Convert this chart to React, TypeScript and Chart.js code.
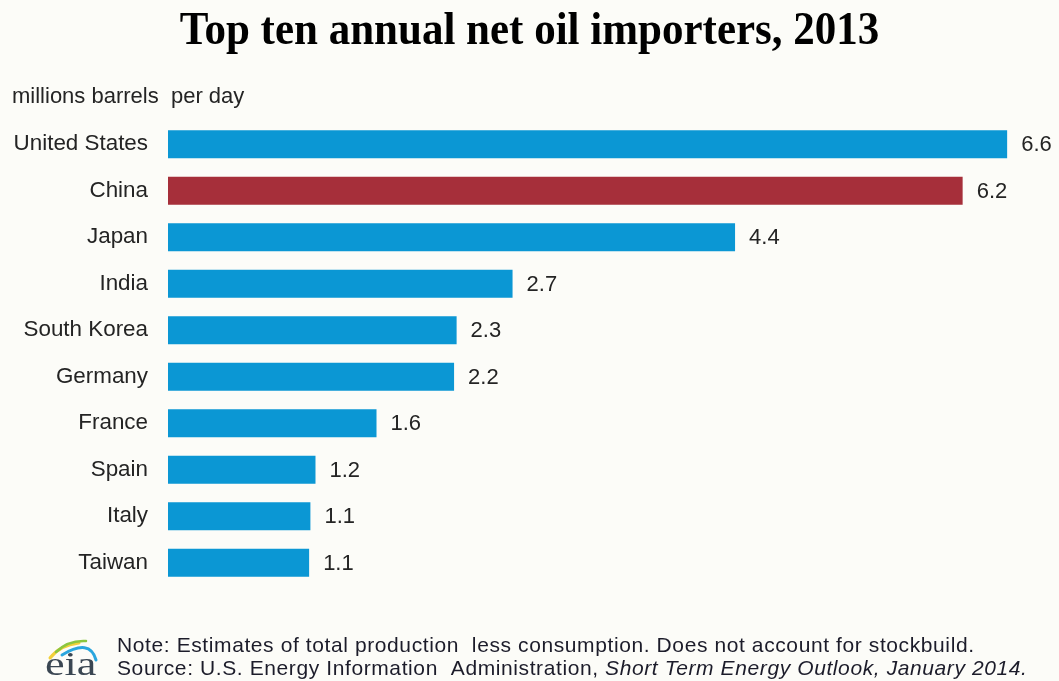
import { useEffect, useRef } from "react";
import { Chart, registerables } from "chart.js";

Chart.register(...registerables);

const TITLE = "Top ten annual net oil importers, 2013";
const UNIT_LABEL = "millions barrels  per day";
const countries = [
  "United States",
  "China",
  "Japan",
  "India",
  "South Korea",
  "Germany",
  "France",
  "Spain",
  "Italy",
  "Taiwan",
];
const netImports = [6.6, 6.25, 4.46, 2.71, 2.27, 2.25, 1.64, 1.16, 1.12, 1.11];
const valueLabels = ["6.6", "6.2", "4.4", "2.7", "2.3", "2.2", "1.6", "1.2", "1.1", "1.1"];
const highlighted = ["China"];
const NOTE = "Note: Estimates of total production  less consumption. Does not account for stockbuild.";
const SOURCE_PREFIX = "Source: U.S. Energy Information  Administration, ";
const SOURCE_ITALIC = "Short Term Energy Outlook, January 2014.";
const LOGO_TEXT = "eia";

const BLUE = "#0b97d4";
const RED = "#a62f3a";
const TEXT = "#242424";
const SANS = "'Liberation Sans', Arial, sans-serif";

const decorPlugin = {
  id: "decor",
  beforeDraw(chart: any) {
    const { ctx, width, height } = chart;
    ctx.save();
    ctx.fillStyle = "#fcfcf8";
    ctx.fillRect(0, 0, width, height);
    ctx.restore();
  },
  afterDraw(chart: any) {
    const ctx = chart.ctx;
    ctx.save();
    // value labels
    ctx.font = `22px ${SANS}`;
    ctx.fillStyle = TEXT;
    ctx.textAlign = "left";
    ctx.textBaseline = "middle";
    const meta = chart.getDatasetMeta(0);
    meta.data.forEach((bar: any, i: number) => {
      ctx.fillText(valueLabels[i], bar.x + 14, bar.y + 1);
    });

    // title
    ctx.save();
    ctx.translate(chart.width / 2, 44);
    ctx.scale(1, 1.1);
    ctx.font = "bold 43px 'Liberation Serif', 'Times New Roman', serif";
    ctx.fillStyle = "#000";
    ctx.textAlign = "center";
    ctx.textBaseline = "alphabetic";
    ctx.fillText(TITLE, 0, 0);
    ctx.restore();

    // unit label
    ctx.font = `22px ${SANS}`;
    ctx.fillStyle = TEXT;
    ctx.textAlign = "left";
    ctx.textBaseline = "alphabetic";
    ctx.fillText(UNIT_LABEL, 12, 103);

    // footer
    ctx.fillStyle = "#1c1c2a";
    ctx.font = `21px ${SANS}`;
    (ctx as any).letterSpacing = "0.6px";
    ctx.fillText(NOTE, 117, 652);
    ctx.fillText(SOURCE_PREFIX, 117, 675);
    const w = ctx.measureText(SOURCE_PREFIX).width;
    ctx.font = `italic 21px ${SANS}`;
    ctx.fillText(SOURCE_ITALIC, 117 + w, 675);
    (ctx as any).letterSpacing = "0px";

    // logo
    ctx.save();
    ctx.translate(45, 675);
    ctx.scale(1.05, 0.8);
    ctx.font = "42px 'Liberation Serif', serif";
    ctx.fillStyle = "#3a4652";
    ctx.fillText(LOGO_TEXT, 0, 0);
    ctx.restore();
    ctx.lineCap = "round";
    const swooshes = [
      { c: "#f2d03b", w: 3, p: [50, 658, 60, 645, 79, 643] },
      { c: "#8cc63f", w: 2.5, p: [56, 652, 68, 640, 86, 641] },
      { c: "#2aa6de", w: 3, p: [62, 655, 90, 638, 96, 660] },
    ];
    swooshes.forEach((s) => {
      ctx.strokeStyle = s.c;
      ctx.lineWidth = s.w;
      ctx.beginPath();
      ctx.moveTo(s.p[0], s.p[1]);
      ctx.quadraticCurveTo(s.p[2], s.p[3], s.p[4], s.p[5]);
      ctx.stroke();
    });
    ctx.restore();
  },
};

export default function App() {
  const ref = useRef<HTMLCanvasElement>(null);
  useEffect(() => {
    if (!ref.current) return;
    const chart = new Chart(ref.current, {
      type: "bar",
      data: {
        labels: countries,
        datasets: [
          {
            data: netImports,
            backgroundColor: countries.map((c) => (highlighted.includes(c) ? RED : BLUE)),
            borderWidth: 0,
            barPercentage: 0.6,
            categoryPercentage: 1,
          },
        ],
      },
      options: {
        indexAxis: "y",
        animation: false,
        responsive: false,
        devicePixelRatio: 1,
        layout: { padding: { top: 121, bottom: 95, left: 0, right: 1 } },
        plugins: {
          legend: { display: false },
          title: { display: false },
          tooltip: { enabled: false },
        },
        scales: {
          x: { display: false, min: 0, max: 7 },
          y: {
            grid: { display: false, drawTicks: false },
            border: { display: false },
            ticks: {
              padding: 20,
              color: TEXT,
              font: { size: 22.4, family: SANS },
            },
            afterFit: (scale: any) => {
              scale.width = 168;
            },
          },
        },
      },
      plugins: [decorPlugin],
    });
    return () => chart.destroy();
  }, []);
  return (
    <div style={{ position: "fixed", left: 0, top: 0, width: 1059, height: 681 }}>
      <canvas ref={ref} width={1059} height={681} style={{ display: "block" }} />
    </div>
  );
}
